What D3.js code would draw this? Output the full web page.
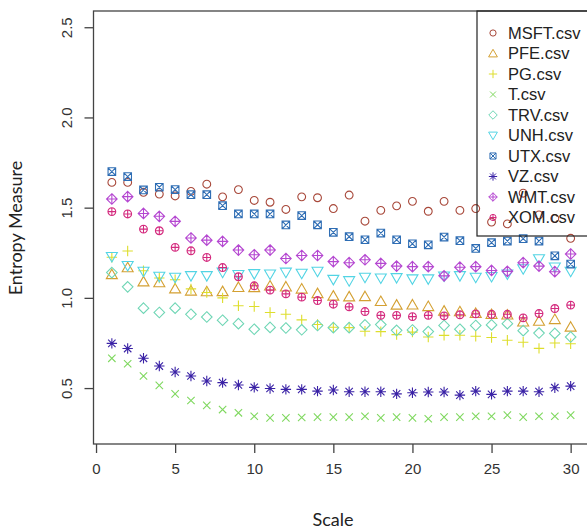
<!doctype html>
<html>
<head>
<meta charset="utf-8">
<style>
body{ margin:0; background:#fff; }
.tick-label{ font-family:"Liberation Sans", Arial; font-size:15px; fill:#333; }
.axis-title{ font-family:Lato, "Open Sans"; font-size:18px; fill:#222; }
.leg-text{ font-family:"Liberation Sans", Arial; font-size:16.5px; fill:#222; }
</style>
<script src="https://d3js.org/d3.v7.min.js"></script>
</head>
<body>
<svg width="587" height="532"></svg>
<script>
// series names and values (scale 1..30)
var names = ["MSFT.csv","PFE.csv","PG.csv","T.csv","TRV.csv","UNH.csv","UTX.csv","VZ.csv","WMT.csv","XOM.csv"];
var colors = ["#a8483a","#d4a032","#dede2c","#7fd85f","#6fd6b5","#52d4e4","#2e6db4","#3a22a6","#b547d1","#d42a7e"];
var pchs = [1,2,3,4,5,6,7,8,9,10];

var msft = [1.64,1.64,1.585,1.575,1.565,1.59,1.63,1.56,1.60,1.54,1.53,1.49,1.56,1.555,1.495,1.57,1.425,1.485,1.51,1.535,1.48,1.535,1.485,1.495,1.42,1.41,1.58,1.46,1.44,1.33];
var pfe  = [1.13,1.168,1.09,1.085,1.051,1.039,1.035,1.036,1.059,1.058,1.067,1.062,1.05,1.025,1.011,1.007,1.008,0.981,0.961,0.962,0.953,0.928,0.924,0.915,0.909,0.906,0.868,0.872,0.881,0.839];
var pg   = [1.225,1.26,1.15,1.11,1.10,1.05,1.03,1.0,0.956,0.952,0.919,0.909,0.878,0.852,0.837,0.835,0.815,0.813,0.796,0.81,0.783,0.792,0.793,0.787,0.78,0.765,0.754,0.72,0.75,0.746];
var t    = [0.665,0.635,0.567,0.515,0.468,0.431,0.404,0.381,0.363,0.344,0.335,0.335,0.337,0.339,0.339,0.339,0.344,0.335,0.339,0.335,0.33,0.339,0.339,0.344,0.344,0.35,0.339,0.344,0.344,0.35];
var trv  = [1.14,1.061,0.943,0.919,0.943,0.909,0.894,0.876,0.857,0.826,0.836,0.833,0.823,0.847,0.835,0.835,0.85,0.852,0.82,0.822,0.813,0.847,0.826,0.847,0.85,0.857,0.818,0.805,0.803,0.783];
var unh  = [1.228,1.178,1.146,1.118,1.113,1.122,1.122,1.141,1.128,1.133,1.131,1.141,1.135,1.146,1.101,1.094,1.113,1.109,1.111,1.104,1.104,1.12,1.122,1.113,1.117,1.131,1.16,1.215,1.17,1.146];
var utx  = [1.70,1.672,1.598,1.613,1.60,1.572,1.572,1.511,1.465,1.465,1.465,1.404,1.456,1.405,1.363,1.339,1.322,1.359,1.322,1.30,1.294,1.337,1.317,1.274,1.306,1.315,1.328,1.315,1.233,1.187];
var vz   = [0.748,0.719,0.665,0.622,0.589,0.567,0.539,0.53,0.517,0.504,0.498,0.493,0.493,0.483,0.489,0.48,0.48,0.48,0.468,0.474,0.478,0.478,0.461,0.483,0.465,0.483,0.483,0.48,0.502,0.511];
var wmt  = [1.548,1.561,1.468,1.452,1.424,1.332,1.32,1.313,1.265,1.239,1.265,1.218,1.235,1.235,1.201,1.195,1.211,1.191,1.176,1.173,1.173,1.122,1.17,1.173,1.152,1.147,1.195,1.176,1.145,1.243];
var xom  = [1.478,1.465,1.381,1.372,1.28,1.261,1.224,1.168,1.117,1.067,1.043,1.022,1.004,0.985,0.965,0.95,0.924,0.903,0.903,0.896,0.903,0.90,0.906,0.911,0.909,0.909,0.889,0.913,0.941,0.96];
var series = [msft,pfe,pg,t,trv,unh,utx,vz,wmt,xom];

var xTicks = [0,5,10,15,20,25,30];
var yTicks = [0.5,1.0,1.5,2.0,2.5];

var svg = d3.select("svg");

var x = d3.scaleLinear().domain([-0.16, 31.16]).range([93.5, 589]);
var y = d3.scaleLinear().domain([0.19, 2.59]).range([444, 11]);

// R style point symbols (pch 1..10)
function pchPath(pch, s){
  var r = 3.9*s, p = "";
  var circle = function(rr){ return "M"+(-rr)+",0A"+rr+","+rr+" 0 1,0 "+rr+",0A"+rr+","+rr+" 0 1,0 "+(-rr)+",0Z"; };
  var plus = function(a){ return "M"+(-a)+",0H"+a+"M0,"+(-a)+"V"+a; };
  var cross = function(a){ return "M"+(-a)+","+(-a)+"L"+a+","+a+"M"+(-a)+","+a+"L"+a+","+(-a); };
  var d = 5.3*s, h = 5*s;
  switch(pch){
    case 1: p = circle(r); break;
    case 2: p = "M0,"+(-h*1.05)+"L"+(h*1.1)+","+(h*0.85)+"L"+(-h*1.1)+","+(h*0.85)+"Z"; break;
    case 3: p = plus(5.2*s); break;
    case 4: p = cross(3.7*s); break;
    case 5: p = "M0,"+(-d)+"L"+d+",0L0,"+d+"L"+(-d)+",0Z"; break;
    case 6: p = "M0,"+(h*1.05)+"L"+(h*1.1)+","+(-h*0.85)+"L"+(-h*1.1)+","+(-h*0.85)+"Z"; break;
    case 7: p = "M-3.8,-3.8H3.8V3.8H-3.8Z".replace(/3\.8/g, (3.8*s).toFixed(2)) + cross(3.8*s); break;
    case 8: p = plus(5.2*s) + cross(3.7*s); break;
    case 9: p = "M0,"+(-d)+"L"+d+",0L0,"+d+"L"+(-d)+",0Z" + plus(d); break;
    case 10: p = circle(r) + plus(r); break;
  }
  return p;
}

// points
series.forEach(function(vals, k){
  svg.append("g")
    .selectAll("path")
    .data(vals)
    .enter()
    .append("path")
    .attr("transform", function(v, i){ return "translate(" + x(i+1) + "," + y(v) + ")"; })
    .attr("d", pchPath(pchs[k], 1))
    .attr("fill", "none")
    .attr("stroke", colors[k])
    .attr("stroke-width", 1.1);
});

// plot box
svg.append("rect")
  .attr("x", x.range()[0]).attr("y", y.range()[1])
  .attr("width", x.range()[1] - x.range()[0])
  .attr("height", y.range()[0] - y.range()[1])
  .attr("fill", "none")
  .attr("stroke", "#444")
  .attr("stroke-width", 1.3);

// x axis
var xAxis = d3.axisBottom(x).tickValues(xTicks).tickSize(9).tickPadding(10).tickSizeOuter(0);
var gx = svg.append("g").attr("transform", "translate(0," + y.range()[0] + ")").call(xAxis);
gx.select(".domain").remove();
gx.selectAll("line").attr("stroke", "#444").attr("stroke-width", 1.3);
gx.selectAll("text").attr("class", "tick-label").attr("font-family", null).attr("font-size", null).attr("fill", null);

// y axis, labels rotated like base R
var yAxis = d3.axisLeft(y).tickValues(yTicks).tickSize(9).tickFormat(d3.format(".1f"));
var gy = svg.append("g").attr("transform", "translate(" + x.range()[0] + ",0)").call(yAxis);
gy.select(".domain").remove();
gy.selectAll("line").attr("stroke", "#444").attr("stroke-width", 1.3);
gy.selectAll("text")
  .attr("class", "tick-label").attr("font-family", null).attr("font-size", null).attr("fill", null)
  .attr("x", null).attr("dy", null)
  .attr("text-anchor", "middle")
  .attr("transform", "translate(-27,0) rotate(-90)")
  .attr("dy", "0.35em");

// axis titles
svg.append("text").attr("class", "axis-title")
  .attr("x", 333).attr("y", 526)
  .attr("text-anchor", "middle")
  .text("Scale");

svg.append("text").attr("class", "axis-title")
  .attr("transform", "translate(22,228) rotate(-90)")
  .attr("text-anchor", "middle")
  .text("Entropy Measure");

// legend
var legX = 477, legY = 11, legStep = 20.5;
svg.append("rect")
  .attr("x", legX).attr("y", legY)
  .attr("width", 130).attr("height", 225)
  .attr("fill", "none")
  .attr("stroke", "#222")
  .attr("stroke-width", 1.2);

var leg = svg.append("g").selectAll("g")
  .data(names)
  .enter()
  .append("g")
  .attr("transform", function(d, i){ return "translate(" + legX + "," + (legY + 22 + i*legStep) + ")"; });

leg.append("path")
  .attr("transform", "translate(16,0)")
  .attr("d", function(d, i){ return pchPath(pchs[i], 0.8); })
  .attr("fill", "none")
  .attr("stroke", function(d, i){ return colors[i]; })
  .attr("stroke-width", 1);

leg.append("text")
  .attr("class", "leg-text")
  .attr("x", 31).attr("dy", "0.36em")
  .text(function(d){ return d; });
</script>
</body>
</html>
